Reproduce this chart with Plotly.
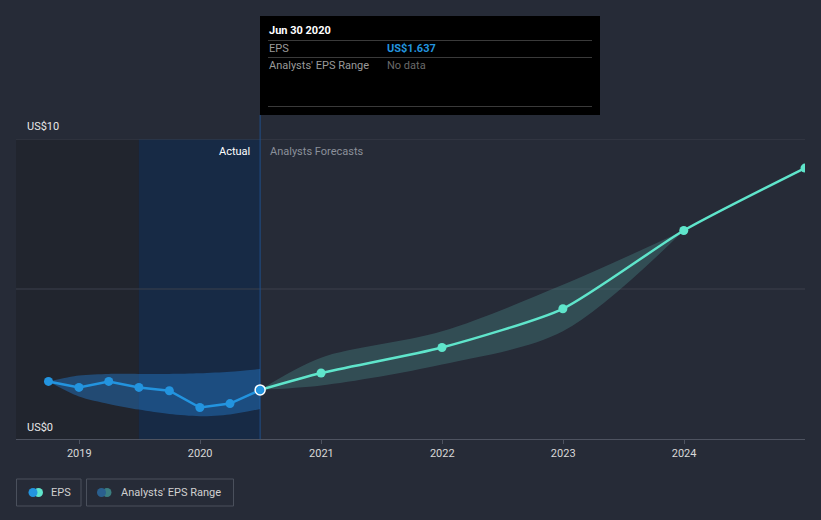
import plotly.graph_objects as go

# ---------------- data ----------------
past_dates = ["2018-09-30", "2018-12-31", "2019-03-31", "2019-06-30",
              "2019-09-30", "2019-12-31", "2020-03-31", "2020-06-30"]
past_eps = [1.92, 1.72, 1.92, 1.72, 1.61, 1.05, 1.18, 1.637]

past_range_dates = ["2018-09-30", "2018-12-31", "2019-03-31", "2019-06-30",
                    "2019-09-30", "2019-12-31", "2020-03-31", "2020-06-30"]
past_range_high = [1.92, 2.12, 2.17, 2.17, 2.17, 2.19, 2.24, 2.33]
past_range_low = [1.92, 1.42, 1.17, 0.98, 0.83, 0.76, 0.82, 1.00]

fc_dates = ["2020-06-30", "2020-12-31", "2021-12-31", "2022-12-31",
            "2023-12-31", "2024-12-31"]
fc_eps = [1.637, 2.20, 3.05, 4.34, 6.95, 9.03]

fc_range_dates = ["2020-06-30", "2020-12-31", "2021-12-31", "2022-12-31", "2023-12-31"]
fc_range_high = [1.637, 2.71, 3.59, 5.14, 6.95]
fc_range_low = [1.637, 1.78, 2.48, 3.59, 6.95]

tick_vals = ["2019-01-01", "2020-01-01", "2021-01-01", "2022-01-01", "2023-01-01", "2024-01-01"]
tick_text = ["2019", "2020", "2021", "2022", "2023", "2024"]

tooltip_date = "Jun 30 2020"
tooltip_eps = "US$1.637"

# ---------------- styling ----------------
BG = "#262b37"
BLUE = "#2394df"
TEAL = "#5fe5cb"
GRID = "#3c414c"
FONT = "Roboto, Arial, sans-serif"

L, R, T, B = 16, 16, 139, 81
W, H = 821, 520
PW = W - L - R
PH = H - T - B


def fx(p):
    return (p - L) / PW


def fy(p):
    return (H - B - p) / PH


fig = go.Figure()

# past analysts range band
fig.add_trace(go.Scatter(x=past_range_dates, y=past_range_high, mode="lines",
                         line=dict(width=0, shape="spline", smoothing=0.8),
                         hoverinfo="skip", showlegend=False))
fig.add_trace(go.Scatter(x=past_range_dates, y=past_range_low, mode="lines",
                         line=dict(width=0, shape="spline", smoothing=0.8),
                         fill="tonexty", fillcolor="rgba(36,120,200,0.45)",
                         hoverinfo="skip", showlegend=False))

# forecast range band
fig.add_trace(go.Scatter(x=fc_range_dates, y=fc_range_high, mode="lines",
                         line=dict(width=0, shape="spline", smoothing=0.9),
                         hoverinfo="skip", showlegend=False))
fig.add_trace(go.Scatter(x=fc_range_dates, y=fc_range_low, mode="lines",
                         line=dict(width=0, shape="spline", smoothing=0.9),
                         fill="tonexty", fillcolor="rgba(75,140,140,0.35)",
                         hoverinfo="skip", showlegend=False))

# forecast EPS line
fig.add_trace(go.Scatter(x=fc_dates, y=fc_eps, mode="lines",
                         line=dict(color=TEAL, width=2.5, shape="spline", smoothing=0.6),
                         hoverinfo="skip", showlegend=False))
fig.add_trace(go.Scatter(x=fc_dates[1:], y=fc_eps[1:], mode="markers",
                         marker=dict(size=9, color=TEAL),
                         hoverinfo="skip", showlegend=False, cliponaxis=True))

# past EPS line
fig.add_trace(go.Scatter(x=past_dates, y=past_eps, mode="lines",
                         line=dict(color=BLUE, width=2.5),
                         hoverinfo="skip", showlegend=False))
fig.add_trace(go.Scatter(x=past_dates[:-1], y=past_eps[:-1], mode="markers",
                         marker=dict(size=9, color=BLUE),
                         hoverinfo="skip", showlegend=False))
fig.add_trace(go.Scatter(x=[past_dates[-1]], y=[past_eps[-1]], mode="markers",
                         marker=dict(size=10, color=BLUE, line=dict(color="white", width=1.5)),
                         hoverinfo="skip", showlegend=False))

shapes = []
# shaded regions
shapes.append(dict(type="rect", xref="x", yref="paper", x0="2018-06-20", x1="2019-06-30",
                   y0=0, y1=1, fillcolor="#21252e", line=dict(width=0), layer="below"))
shapes.append(dict(type="rect", xref="x", yref="paper", x0="2019-06-30", x1="2020-06-30",
                   y0=0, y1=1, fillcolor="#172a45", line=dict(width=0), layer="below"))
# gridlines
for v in (5, 10):
    shapes.append(dict(type="line", xref="paper", yref="y", x0=0, x1=1, y0=v, y1=v,
                       line=dict(color=GRID, width=1), layer="below"))
# cursor vertical line
shapes.append(dict(type="line", xref="x", yref="paper", x0="2020-06-30", x1="2020-06-30",
                   y0=0, y1=fy(115), line=dict(color="#1f4f8a", width=1), layer="below"))
# tooltip box
shapes.append(dict(type="rect", xref="paper", yref="paper", x0=fx(260), x1=fx(600),
                   y0=fy(115), y1=fy(16), fillcolor="#000000", line=dict(width=0)))
for yy in (40.5, 57.5, 106.5):
    shapes.append(dict(type="line", xref="paper", yref="paper", x0=fx(268), x1=fx(592),
                       y0=fy(yy), y1=fy(yy), line=dict(color="#3a3a3a", width=1)))

# legend boxes
shapes.append(dict(type="rect", xref="paper", yref="paper", x0=fx(16.5), x1=fx(81),
                   y0=fy(506), y1=fy(479), line=dict(color="#4a505c", width=1),
                   fillcolor="rgba(0,0,0,0)"))
shapes.append(dict(type="rect", xref="paper", yref="paper", x0=fx(86.5), x1=fx(233.5),
                   y0=fy(506), y1=fy(479), line=dict(color="#4a505c", width=1),
                   fillcolor="rgba(0,0,0,0)"))


def circle(cx, cy, r, color):
    return dict(type="circle", xref="paper", yref="paper",
                x0=fx(cx - r), x1=fx(cx + r), y0=fy(cy + r), y1=fy(cy - r),
                fillcolor=color, line=dict(width=0))


shapes.append(circle(38.5, 492.5, 4.5, TEAL))
shapes.append(circle(33, 492.5, 4.5, BLUE))
shapes.append(circle(107, 492.5, 4.5, "#3b7e80"))
shapes.append(circle(101.5, 492.5, 4.5, "#2a5f8e"))

annotations = []


def text(x, y, s, color, size=11, anchor="left", bold=False):
    if bold:
        s = "<b>" + s + "</b>"
    annotations.append(dict(xref="paper", yref="paper", x=fx(x), y=fy(y), text=s,
                            showarrow=False, xanchor=anchor, yanchor="middle",
                            font=dict(family=FONT, size=size, color=color)))


text(25, 127, "US$10", "#e8e8e8", 11)
text(25, 427, "US$0", "#e8e8e8", 11)
text(252, 151, "Actual", "#ffffff", 11, anchor="right")
text(268, 151, "Analysts Forecasts", "#8b909a", 11)

text(267, 31, tooltip_date, "#ffffff", 11, bold=True)
text(267, 48.5, "EPS", "#9a9a9a", 11)
text(385, 48.5, tooltip_eps, BLUE, 11, bold=True)
text(267, 65.5, "Analysts' EPS Range", "#9a9a9a", 11)
text(385, 65.5, "No data", "#6a6a6a", 11)

text(49, 492.5, "EPS", "#d0d0d0", 11)
text(119, 492.5, "Analysts' EPS Range", "#d0d0d0", 11)

fig.update_layout(
    width=W, height=H,
    margin=dict(l=L, r=R, t=T, b=B),
    paper_bgcolor=BG, plot_bgcolor=BG,
    showlegend=False,
    shapes=shapes,
    annotations=annotations,
    hovermode=False,
    xaxis=dict(type="date", range=["2018-06-24", "2024-12-31"],
               tickmode="array", tickvals=tick_vals, ticktext=tick_text,
               showgrid=False, zeroline=False,
               showline=True, linecolor="#4e5360", linewidth=1,
               ticks="outside", ticklen=4, tickcolor="#4e5360",
               tickfont=dict(family=FONT, size=11, color="#d8d8d8"),
               fixedrange=True),
    yaxis=dict(range=[0, 10], showgrid=False, zeroline=False, showticklabels=False,
               showline=False, fixedrange=True),
)

fig.write_html("out.html", config={"displayModeBar": False})

# remove default page margin so the figure sits at the window origin
with open("out.html", "r", encoding="utf-8") as f:
    html = f.read()
html = html.replace("<head>", "<head><style>html,body{margin:0;padding:0;background:%s;}</style>" % BG, 1)
with open("out.html", "w", encoding="utf-8") as f:
    f.write(html)
